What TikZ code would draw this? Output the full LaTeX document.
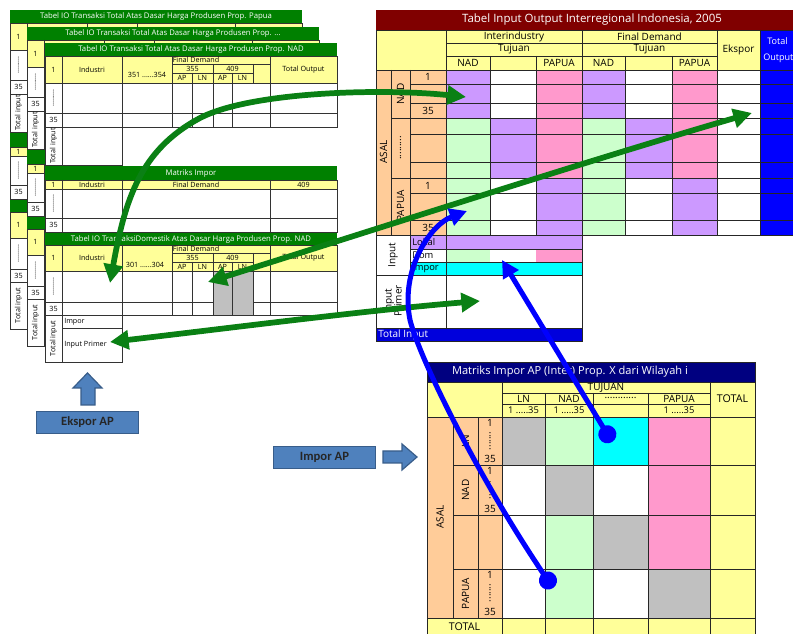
\documentclass[tikz,border=0pt]{standalone}
\usepackage{fontspec}
\setmainfont{Open Sans}
\newfontfamily\boxfont{Carlito}
\usetikzlibrary{arrows.meta}
\definecolor{hg}{RGB}{0,128,0}
\definecolor{yel}{RGB}{255,255,153}
\definecolor{pur}{RGB}{204,153,255}
\definecolor{pnk}{RGB}{255,153,204}
\definecolor{grn}{RGB}{204,255,204}
\definecolor{org}{RGB}{255,204,153}
\definecolor{cyn}{RGB}{0,255,255}
\definecolor{blu}{RGB}{0,0,255}
\definecolor{tib}{RGB}{0,0,220}
\definecolor{dred}{RGB}{128,0,0}
\definecolor{navy}{RGB}{0,0,128}
\definecolor{gry}{RGB}{192,192,192}
\definecolor{ag}{RGB}{10,128,20}
\definecolor{bxf}{RGB}{79,129,189}
\definecolor{bxd}{RGB}{56,93,138}
\newcommand\fz[1]{\fontsize{#1}{#1}\selectfont}
\newif\iffrontsheet
\tikzset{
 ln/.style={draw=black!80,line width=0.45pt},
 rl/.style={draw=black!85,line width=0.6pt},
 st/.style={inner sep=0pt,font=\fz{5.4}},
 sth/.style={inner sep=0pt,font=\fz{5.8},text=white},
 rt/.style={inner sep=0pt,font=\fz{7.5}},
 mt/.style={inner sep=0pt,font=\fz{7.5}},
 garrow/.style={draw=ag,line width=4.3pt,{Triangle[length=14pt,width=14pt]}-{Triangle[length=14pt,width=14pt]}},
 barrow/.style={draw=blu,line width=3.8pt,{Circle[length=13.5pt]}-{Triangle[length=13pt,width=13pt]}},
 blockarrow/.style={fill=bxf,draw=bxd,line width=0.9pt},
 bluebox/.style={fill=bxf,draw=bxd,line width=0.9pt,font=\boxfont\bfseries\fz{9.5},text=black!85,inner sep=0pt,minimum width=77pt,minimum height=16pt},
}
\newcommand\drawsheet[4]{%
\begin{scope}[shift={(#2,#3)}]
\fill[white] (45,43) rectangle (337,362);
% ---- Total table
\fill[hg] (45,43) rectangle (337,56);
\fill[yel] (45,56) rectangle (337,83);
\draw[ln] (45,56) rectangle (337,127) (45,83)--(337,83) (45,113)--(337,113)
 (45,127) rectangle (62,165) (62,127) rectangle (122,165)
 (62,56)--(62,127) (122,56)--(122,127) (172,56)--(172,127) (270,56)--(270,127)
 (172,64)--(270,64) (172,73)--(253,73)
 (213,64)--(213,127) (253,64)--(253,83) (192,73)--(192,127) (232,73)--(232,127);
\node[sth] (#1t) at (191,49.5) {Tabel IO Transaksi Total Atas Dasar Harga Produsen Prop. #4};
\node[st] (#1t1) at (53.5,69.5) {1};
\node[st,rotate=90] (#1t12) at (53.5,98) {.........};
\node[st] (#1t13) at (53.5,120) {35};
\node[st,rotate=90] (#1t14) at (53.5,146) {Total input};
\iffrontsheet
\node[st] (#1t2) at (92,69.5) {Industri};
\node[st] (#1t3) at (147,75) {351 ......354};
\node[st] (#1t4) at (196,60) {Final Demand};
\node[st] (#1t5) at (192.5,68.5) {355};
\node[st] (#1t6) at (232.5,68.5) {409};
\node[st] (#1t7) at (182,78) {AP};
\node[st] (#1t8) at (202.5,78) {LN};
\node[st] (#1t9) at (222.5,78) {AP};
\node[st] (#1t10) at (242.5,78) {LN};
\node[st] (#1t11) at (303.5,69.5) {Total Output};
\fi
% ---- Matriks Impor
\fill[hg] (45,166) rectangle (337,180);
\fill[yel] (45,180) rectangle (337,189);
\draw[ln] (45,180) rectangle (337,232) (45,189)--(337,189) (45,218)--(337,218)
 (62,180)--(62,232) (122,180)--(122,232) (270,180)--(270,232);
\node[st] (#1m1) at (53.5,184.5) {1};
\node[st,rotate=90] (#1m5) at (53.5,203.5) {.........};
\node[st] (#1m6) at (53.5,225) {35};
\iffrontsheet
\node[sth] (#1m) at (191,173) {Matriks Impor};
\node[st] (#1m2) at (92,184.5) {Industri};
\node[st] (#1m3) at (196,184.5) {Final Demand};
\node[st] (#1m4) at (303.5,184.5) {409};
\fi
% ---- Domestik table
\fill[hg] (45,233) rectangle (337,245);
\fill[yel] (45,245) rectangle (337,271);
\fill[gry] (213,271) rectangle (253,315);
\draw[ln] (45,245) rectangle (337,315) (45,271)--(337,271)
 (45,302)--(213,302) (253,302)--(337,302)
 (62,245)--(62,315) (122,245)--(122,315) (172,245)--(172,315) (270,245)--(270,315)
 (172,253)--(270,253) (172,262)--(253,262)
 (213,253)--(213,315) (253,253)--(253,315) (192,262)--(192,315) (232,262)--(232,315)
 (45,315) rectangle (62,362) (62,315) rectangle (122,362) (62,328)--(122,328);
\node[st] (#1d1) at (53.5,258) {1};
\node[st,rotate=90] (#1d12) at (53.5,286.5) {.........};
\node[st] (#1d13) at (53.5,308.5) {35};
\node[st,rotate=90] (#1d14) at (53.5,338.5) {Total input};
\iffrontsheet
\node[sth] (#1d) at (191,239) {Tabel IO TransaksiDomestik Atas Dasar Harga Produsen Prop. #4};
\node[st] (#1d2) at (92,258) {Industri};
\node[st] (#1d3) at (145,265) {301 ......304};
\node[st] (#1d4) at (196,249) {Final Demand};
\node[st] (#1d5) at (192.5,257.5) {355};
\node[st] (#1d6) at (232.5,257.5) {409};
\node[st] (#1d7) at (182,266.5) {AP};
\node[st] (#1d8) at (202.5,266.5) {LN};
\node[st] (#1d9) at (222.5,266.5) {AP};
\node[st] (#1d10) at (242.5,266.5) {LN};
\node[st] (#1d11) at (303.5,258) {Total Output};
\node[st,anchor=west] (#1d15) at (64,321.5) {Impor};
\node[st,anchor=west] (#1d16) at (64,345) {Input Primer};
\fi
\end{scope}}
\begin{document}
\begin{tikzpicture}[x=0.75pt,y=-0.75pt]
\useasboundingbox (0,0) rectangle (793,634);
\fill[white] (0,0) rectangle (793,634);
% ===== left stacks
\frontsheetfalse
\drawsheet{a}{-35}{-33}{Papua}
\drawsheet{b}{-18}{-16}{...}
\frontsheettrue
\drawsheet{c}{0}{0}{NAD}
% ===== block arrows and boxes
\fill[blockarrow] (81,405)--(81,388)--(73,388)--(87.5,373)--(102,388)--(95,388)--(95,405)--cycle;
\node[bluebox] (ekspor) at (87.5,422.5) {Ekspor AP};
\node[bluebox] (impor) at (324.5,457.5) {Impor AP};
\fill[blockarrow] (383,451)--(402,451)--(402,444)--(417,457)--(402,470)--(402,463)--(383,463)--cycle;
% ===== right IRIO table
\fill[dred] (376,10) rectangle (800,30);
\node[inner sep=0pt,font=\fz{8.6},text=white] (rtitle) at (592,20) {Tabel Input Output Interregional Indonesia, 2005};
\fill[yel] (376,30) rectangle (760,70);
\fill[blu] (760,30) rectangle (800,235);
\fill[org] (376,70) rectangle (446,235);
\fill[pur] (446,70) rectangle (490,118); \fill[white] (490,70) rectangle (536,118); \fill[pnk] (536,70) rectangle (582,118);
\fill[pur] (582,70) rectangle (625,118); \fill[white] (625,70) rectangle (672,118); \fill[pnk] (672,70) rectangle (717,118);
\fill[white] (717,70) rectangle (760,235);
\fill[grn] (446,118) rectangle (490,178); \fill[pur] (490,118) rectangle (536,178); \fill[pnk] (536,118) rectangle (582,178);
\fill[grn] (582,118) rectangle (625,178); \fill[pur] (625,118) rectangle (672,178); \fill[pnk] (672,118) rectangle (717,178);
\fill[grn] (446,178) rectangle (490,235); \fill[white] (490,178) rectangle (536,235); \fill[pur] (536,178) rectangle (582,235);
\fill[grn] (582,178) rectangle (625,235); \fill[white] (625,178) rectangle (672,235); \fill[pur] (672,178) rectangle (717,235);
\draw[rl] (376,30) rectangle (800,235) (376,70)--(800,70)
 (446,30)--(446,235) (582,30)--(582,235) (717,30)--(717,235) (760,30)--(760,235)
 (446,43)--(717,43) (446,56)--(717,56)
 (490,56)--(490,235) (536,56)--(536,235) (625,56)--(625,235) (672,56)--(672,235)
 (391,70)--(391,235) (410,70)--(410,235)
 (391,118)--(800,118) (391,178)--(800,178)
 (410,84)--(800,84) (410,103)--(800,103) (410,134)--(800,134) (410,162)--(800,162) (410,193)--(800,193) (410,220)--(800,220);
\node[rt] (h1) at (514,36.5) {Interindustry};
\node[rt] (h2) at (514,49.5) {Tujuan};
\node[rt] (h3) at (649.5,36.5) {Final Demand};
\node[rt] (h4) at (649.5,49.5) {Tujuan};
\node[rt] (h5) at (468,63) {NAD};
\node[rt] (h6) at (559,63) {PAPUA};
\node[rt] (h7) at (603.5,63) {NAD};
\node[rt] (h8) at (694.5,63) {PAPUA};
\node[rt] (h9) at (738.5,50) {Ekspor};
\node[rt,font=\fz{6.8},text=white,anchor=west] (h10) at (767,41) {Total};
\node[rt,font=\fz{6.8},text=white,anchor=west] (h11) at (763,58) {Output};
\node[rt,rotate=90] (r1) at (383.5,152) {ASAL};
\node[rt,rotate=90] (r2) at (400.5,94) {NAD};
\node[rt,rotate=90] (r3) at (400.5,148) {.........};
\node[rt,rotate=90] (r4) at (400.5,206) {PAPUA};
\node[rt] (r5) at (428,77) {1};
\node[rt] (r6) at (428,111) {35};
\node[rt] (r7) at (428,185.5) {1};
\node[rt] (r8) at (428,228) {35};
% input block
\fill[white] (376,235) rectangle (582,328);
\fill[pur] (410,235) rectangle (582,249);
\fill[grn] (446,249) rectangle (490,262); \fill[pnk] (536,249) rectangle (582,262);
\fill[cyn] (410,262) rectangle (582,275);
\fill[tib] (376,328) rectangle (582,341);
\draw[rl] (376,235) rectangle (582,341)
 (410,235)--(410,275) (446,235)--(446,328)
 (376,275)--(582,275) (376,328)--(582,328) (410,249)--(582,249) (410,262)--(582,262);
\node[rt,rotate=90] (i1) at (393,255) {Input};
\node[rt,font=\fz{7},anchor=west] (i2) at (412,242) {Lokal};
\node[rt,font=\fz{7},anchor=west] (i3) at (412,255.5) {Dom};
\node[rt,font=\fz{7},anchor=west] (i4) at (412,268.5) {Impor};
\node[rt,rotate=90,align=center] (i5) at (393,301) {Input\\Primer};
\node[rt,anchor=west,text=white] (i6) at (378,334.5) {Total Input};
% ===== bottom-right matrix
\fill[navy] (427,362) rectangle (755,382);
\node[inner sep=0pt,font=\fz{8.3},text=white] (mtitle) at (570,372) {Matriks Impor AP (Inter) Prop. X dari Wilayah i};
\fill[yel] (427,382) rectangle (755,417);
\fill[org] (427,417) rectangle (502,618);
\fill[yel] (427,618) rectangle (755,640);
\fill[yel] (710,417) rectangle (755,618);
\fill[gry] (502,417) rectangle (545,465); \fill[grn] (545,417) rectangle (593,465); \fill[cyn] (593,417) rectangle (648,465); \fill[pnk] (648,417) rectangle (710,465);
\fill[white] (502,465) rectangle (545,515); \fill[gry] (545,465) rectangle (593,515); \fill[white] (593,465) rectangle (648,515); \fill[pnk] (648,465) rectangle (710,515);
\fill[white] (502,515) rectangle (545,569); \fill[grn] (545,515) rectangle (593,569); \fill[gry] (593,515) rectangle (648,569); \fill[pnk] (648,515) rectangle (710,569);
\fill[white] (502,569) rectangle (545,618); \fill[grn] (545,569) rectangle (593,618); \fill[white] (593,569) rectangle (648,618); \fill[gry] (648,569) rectangle (710,618);
\draw[rl] (427,362) rectangle (755,640)
 (427,382)--(755,382) (427,417)--(755,417)
 (502,382)--(502,640) (710,382)--(710,640)
 (545,393)--(545,640) (593,393)--(593,640) (648,393)--(648,640)
 (502,393)--(710,393) (502,404)--(710,404)
 (453,417)--(453,618) (478,417)--(478,618)
 (453,465)--(755,465) (453,515)--(755,515) (453,569)--(755,569) (427,618)--(755,618);
\node[mt] (m1) at (606,387.5) {TUJUAN};
\node[mt] (m2) at (523.5,398.5) {LN};
\node[mt] (m3) at (569,398.5) {NAD};
\node[mt] (m4) at (620.5,398) {............};
\node[mt] (m5) at (679,398.5) {PAPUA};
\node[mt,font=\fz{7}] (m6) at (523.5,410.5) {1 .....35};
\node[mt,font=\fz{7}] (m7) at (569,410.5) {1 .....35};
\node[mt,font=\fz{7}] (m8) at (679,410.5) {1 .....35};
\node[mt,font=\fz{8}] (m9) at (732.5,399) {TOTAL};
\node[mt,rotate=90] (m10) at (440,517) {ASAL};
\node[mt,rotate=90] (m11) at (465.5,441) {LN};
\node[mt,rotate=90] (m12) at (465.5,490) {NAD};
\node[mt,rotate=90] (m13) at (465.5,593.5) {PAPUA};
\node[mt] (m14) at (490,423) {1}; \node[mt,rotate=90] (m15) at (490,441) {.......}; \node[mt] (m16) at (490,459) {35};
\node[mt] (m17) at (490,471) {1}; \node[mt,rotate=90] (m18) at (490,490) {.......}; \node[mt] (m19) at (490,509) {35};
\node[mt] (m20) at (490,575) {1}; \node[mt,rotate=90] (m21) at (490,593) {.......}; \node[mt] (m22) at (490,612) {35};
\node[mt,font=\fz{8}] (m23) at (464.5,627) {TOTAL};
% ===== connectors
\coordinate (g1s) at (110,283); \coordinate (g1e) at (466,97);
\coordinate (g2s) at (208,282); \coordinate (g2e) at (752,113);
\coordinate (g3s) at (110,342); \coordinate (g3e) at (480,301);
\coordinate (b1s) at (553,588); \coordinate (b1e) at (467,211);
\coordinate (b2s) at (612,442); \coordinate (b2e) at (502,260);
\draw[garrow] (g1s) .. controls (125,200) and (140,150) .. (200,118) .. controls (250,92) and (380,88) .. (g1e);
\draw[garrow] (g2s) .. controls (380,228) and (590,160) .. (g2e);
\draw[garrow] (g3s) .. controls (230,328) and (370,310) .. (g3e);
\draw[barrow] (b1s) .. controls (480,480) and (420,360) .. (410,320) .. controls (400,270) and (430,225) .. (b1e);
\draw[barrow] (b2s) -- (b2e);
\end{tikzpicture}
\end{document}
